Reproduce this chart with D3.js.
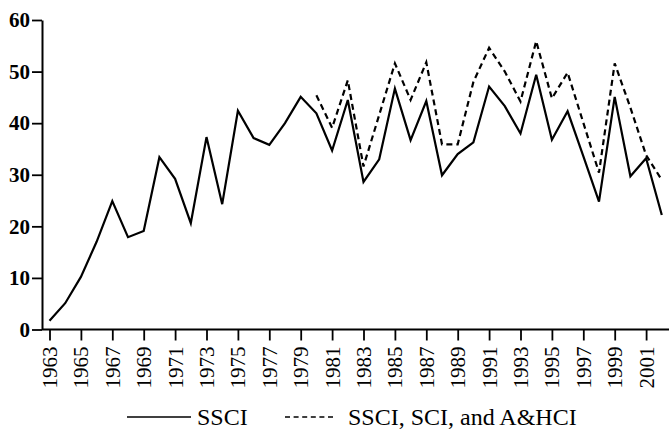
<html>
<head>
<script src="https://d3js.org/d3.v7.min.js"></script>
<style>
body { margin: 0; background: white; }
text { font-family: "Liberation Serif", "DejaVu Serif", serif; fill: black; }
</style>
</head>
<body>
<svg width="669" height="432"></svg>
<script>
// data
var years = [1963, 1964, 1965, 1966, 1967, 1968, 1969, 1970, 1971, 1972,
             1973, 1974, 1975, 1976, 1977, 1978, 1979, 1980, 1981, 1982,
             1983, 1984, 1985, 1986, 1987, 1988, 1989, 1990, 1991, 1992,
             1993, 1994, 1995, 1996, 1997, 1998, 1999, 2000, 2001, 2002];
var ssci = [1.7, 5.1, 10.2, 17.0, 24.9, 17.9, 19.1, 33.4, 29.2, 20.6,
            37.3, 24.3, 42.4, 37.1, 35.8, 40.0, 45.1, 41.9, 34.7, 44.5,
            28.6, 33.0, 46.7, 36.7, 44.3, 29.9, 34.0, 36.3, 47.1, 43.3,
            38.0, 49.4, 36.8, 42.3, 33.6, 24.8, 45.1, 29.7, 33.2, 22.2];
var allYears = [1980, 1981, 1982, 1983, 1984, 1985, 1986, 1987, 1988, 1989,
                1990, 1991, 1992, 1993, 1994, 1995, 1996, 1997, 1998, 1999,
                2000, 2001, 2002];
var allIndexes = [45.4, 39.1, 48.3, 31.6, 41.6, 51.6, 44.5, 51.8, 35.9, 35.9,
                  48.0, 54.6, 50.0, 44.2, 55.9, 44.8, 49.8, 40.1, 30.4, 51.6,
                  43.0, 33.8, 29.0];
var xTicks = [1963, 1965, 1967, 1969, 1971, 1973, 1975, 1977, 1979, 1981,
              1983, 1985, 1987, 1989, 1991, 1993, 1995, 1997, 1999, 2001];
var yTicks = [0, 10, 20, 30, 40, 50, 60];
var legendLabels = ["SSCI", "SSCI, SCI, and A&HCI"];

var svg = d3.select("svg");
var x = d3.scaleLinear().domain([1963, 2002]).range([49.5, 661.8]);
var y = d3.scaleLinear().domain([0, 60]).range([329.5, 20]);
var axisX0 = 42;

// y axis
var gy = svg.append("g").attr("transform", "translate(" + axisX0 + ",0)")
    .call(d3.axisLeft(y).tickValues(yTicks).tickSize(10).tickSizeOuter(0).tickPadding(2));
gy.select(".domain").attr("stroke-width", 2);
gy.selectAll(".tick line").attr("stroke-width", 1.8);
gy.selectAll(".tick text")
    .style("font-family", "'Liberation Serif', serif")
    .style("font-weight", "bold")
    .style("font-size", "21px");

// x axis
var gx = svg.append("g").attr("transform", "translate(0," + y(0) + ")")
    .call(d3.axisBottom(x).tickValues(xTicks).tickSize(11).tickSizeOuter(0).tickFormat(d3.format("d")));
gx.select(".domain").remove();
gx.selectAll(".tick line").attr("stroke-width", 1.8);
gx.selectAll(".tick text")
    .attr("transform", "rotate(-90)")
    .attr("text-anchor", "end")
    .attr("x", -17)
    .attr("y", 0)
    .attr("dy", "0.33em")
    .style("font-family", "'Liberation Serif', serif")
    .style("font-size", "21px");
svg.append("line")
    .attr("x1", axisX0).attr("x2", 669)
    .attr("y1", y(0)).attr("y2", y(0))
    .attr("stroke", "black").attr("stroke-width", 2);

// lines
var line = d3.line().x(function(d) { return x(d[0]); }).y(function(d) { return y(d[1]); });

svg.append("path")
    .datum(d3.zip(allYears, allIndexes))
    .attr("d", line)
    .attr("fill", "none")
    .attr("stroke", "black")
    .attr("stroke-width", 2.2)
    .attr("stroke-dasharray", "6,4");

svg.append("path")
    .datum(d3.zip(years, ssci))
    .attr("d", line)
    .attr("fill", "none")
    .attr("stroke", "black")
    .attr("stroke-width", 2.2)
    .attr("stroke-linejoin", "miter");

// legend
var ly = 417;
svg.append("line").attr("x1", 127).attr("x2", 191).attr("y1", ly).attr("y2", ly)
    .attr("stroke", "black").attr("stroke-width", 1.6);
svg.append("text").attr("x", 197).attr("y", 425).style("font-size", "24px").text(legendLabels[0]);
svg.append("line").attr("x1", 285).attr("x2", 334).attr("y1", ly).attr("y2", ly)
    .attr("stroke", "black").attr("stroke-width", 1.6).attr("stroke-dasharray", "5,3.6");
svg.append("text").attr("x", 348).attr("y", 425).style("font-size", "24px").text(legendLabels[1]);
</script>
</body>
</html>
